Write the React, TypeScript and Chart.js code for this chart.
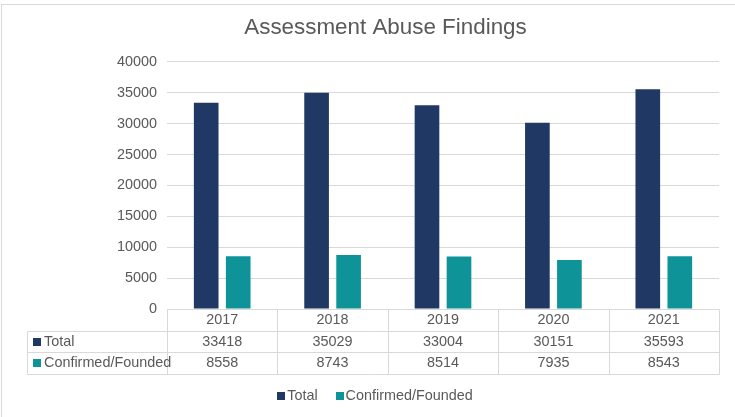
import React, { useEffect, useRef } from "react";
import { Chart, registerables } from "chart.js";

Chart.register(...registerables);

const chartTitle = "Assessment Abuse Findings";
const categories = ["2017", "2018", "2019", "2020", "2021"];
const seriesNames = ["Total", "Confirmed/Founded"];
const totalValues = [33418, 35029, 33004, 30151, 35593];
const confirmedValues = [8558, 8743, 8514, 7935, 8543];
const seriesColors = ["#1F3864", "#0E9399"];
const yMin = 0;
const yMax = 40000;
const yStep = 5000;

const FONT = '"Liberation Sans", Arial, Helvetica, sans-serif';
const TEXT = "#595959";
const LINE = "#D9D9D9";
const FS = 14.4;

const tablePlugin = {
  id: "dataTableAndLegend",
  beforeDraw(chart: any) {
    const ctx = chart.ctx;
    ctx.save();
    ctx.fillStyle = "#ffffff";
    ctx.fillRect(0, 0, chart.width, chart.height);
    ctx.strokeStyle = LINE;
    ctx.lineWidth = 1;
    ctx.strokeRect(1.5, 4.5, chart.width + 20, chart.height + 20);
    ctx.restore();
  },
  afterDraw(chart: any) {
    const { ctx, chartArea } = chart;
    const xs = chart.scales.x;
    const n = categories.length;
    const half = (xs.getPixelForValue(1) - xs.getPixelForValue(0)) / 2;
    const edges: number[] = [];
    for (let i = 0; i < n; i++) edges.push(xs.getPixelForValue(i) - half);
    edges.push(xs.getPixelForValue(n - 1) + half);
    const top = chartArea.bottom;
    const rowH = 21.7;
    const rows = [top, top + rowH, top + 2 * rowH, top + 3 * rowH];
    const labelLeft = 27;
    const p = (v: number) => Math.round(v) + 0.5;

    ctx.save();
    ctx.strokeStyle = LINE;
    ctx.lineWidth = 1;
    ctx.beginPath();
    ctx.moveTo(p(edges[0]), p(rows[0]));
    ctx.lineTo(p(edges[n]), p(rows[0]));
    for (let r = 1; r < rows.length; r++) {
      ctx.moveTo(p(labelLeft), p(rows[r]));
      ctx.lineTo(p(edges[n]), p(rows[r]));
    }
    for (const e of edges) {
      ctx.moveTo(p(e), p(rows[0]));
      ctx.lineTo(p(e), p(rows[3]));
    }
    ctx.moveTo(p(labelLeft), p(rows[1]));
    ctx.lineTo(p(labelLeft), p(rows[3]));
    ctx.stroke();

    ctx.font = `${FS}px ${FONT}`;
    ctx.fillStyle = TEXT;
    ctx.textBaseline = "middle";
    ctx.textAlign = "center";
    const series = [totalValues, confirmedValues];
    for (let i = 0; i < n; i++) {
      const cx = (edges[i] + edges[i + 1]) / 2;
      ctx.fillText(categories[i], cx, (rows[0] + rows[1]) / 2);
      for (let s = 0; s < series.length; s++) {
        ctx.fillText(String(series[s][i]), cx, (rows[s + 1] + rows[s + 2]) / 2);
      }
    }
    ctx.textAlign = "left";
    for (let s = 0; s < seriesNames.length; s++) {
      const cy = (rows[s + 1] + rows[s + 2]) / 2;
      ctx.fillStyle = chart.data.datasets[s].backgroundColor;
      ctx.fillRect(33, Math.round(cy - 4), 8, 8);
      ctx.fillStyle = TEXT;
      ctx.fillText(seriesNames[s], 44, cy);
    }

    const boxW = 8;
    const boxGap = 2;
    const itemGap = 18;
    const widths = seriesNames.map((t) => ctx.measureText(t).width);
    let total = 0;
    widths.forEach((w, i) => {
      total += boxW + boxGap + w + (i > 0 ? itemGap : 0);
    });
    const legendCenter = 375;
    const ly = 396;
    let lx = legendCenter - total / 2;
    for (let s = 0; s < seriesNames.length; s++) {
      ctx.fillStyle = chart.data.datasets[s].backgroundColor;
      ctx.fillRect(Math.round(lx), ly - 4, boxW, boxW);
      ctx.fillStyle = TEXT;
      ctx.fillText(seriesNames[s], lx + boxW + boxGap, ly);
      lx += boxW + boxGap + widths[s] + itemGap;
    }
    ctx.restore();
  },
};

export default function App() {
  const canvasRef = useRef<HTMLCanvasElement | null>(null);

  useEffect(() => {
    const canvas = canvasRef.current;
    if (!canvas) return;
    const chart = new Chart(canvas, {
      type: "bar",
      data: {
        labels: categories,
        datasets: [
          {
            label: seriesNames[0],
            data: totalValues,
            backgroundColor: seriesColors[0],
            borderWidth: 0,
            categoryPercentage: 0.58,
            barPercentage: 0.77,
          },
          {
            label: seriesNames[1],
            data: confirmedValues,
            backgroundColor: seriesColors[1],
            borderWidth: 0,
            categoryPercentage: 0.58,
            barPercentage: 0.77,
          },
        ],
      },
      options: {
        responsive: false,
        maintainAspectRatio: false,
        animation: false,
        devicePixelRatio: 1,
        events: [],
        layout: {
          padding: { left: 52, right: 16, top: 0, bottom: 108 },
        },
        scales: {
          x: {
            display: false,
          },
          y: {
            min: yMin,
            max: yMax,
            afterFit: (scale: any) => {
              scale.width = 115;
            },
            ticks: {
              stepSize: yStep,
              color: TEXT,
              padding: 10,
              font: { size: FS, family: FONT },
              callback: (v: any) => String(v),
            },
            grid: {
              color: LINE,
              lineWidth: 1,
              drawTicks: false,
            },
            border: { display: false },
          },
        },
        plugins: {
          legend: { display: false },
          tooltip: { enabled: false },
          title: {
            display: true,
            text: chartTitle,
            color: TEXT,
            font: { size: 22.4, weight: "normal", family: FONT },
            padding: { top: 14.8, bottom: 20.3 },
          },
        },
      },
      plugins: [tablePlugin],
    });
    return () => chart.destroy();
  }, []);

  return (
    <div style={{ position: "absolute", left: 0, top: 0, width: 735, height: 417 }}>
      <canvas ref={canvasRef} width={735} height={417} style={{ display: "block" }} />
    </div>
  );
}
